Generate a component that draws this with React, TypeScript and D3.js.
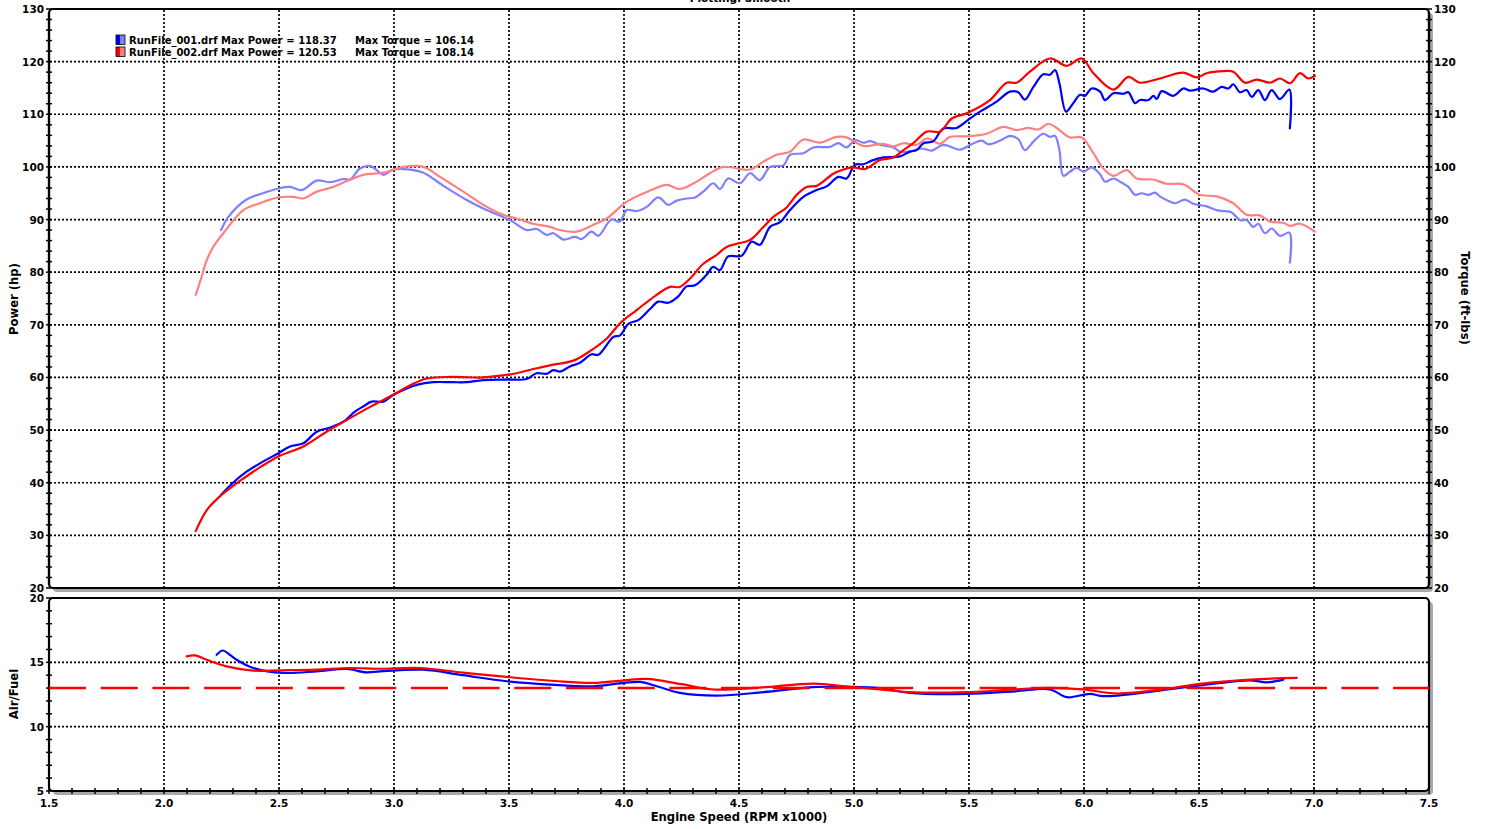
import React from "react";
import * as d3 from "d3";

type P = [number, number];

const xTicks = [1.5, 2.0, 2.5, 3.0, 3.5, 4.0, 4.5, 5.0, 5.5, 6.0, 6.5, 7.0, 7.5];
const topTicks = [20, 30, 40, 50, 60, 70, 80, 90, 100, 110, 120, 130];
const afrTicks = [5, 10, 15, 20];
const afrTarget = 13;

const legendRows = [
  { file: "RunFile_001.drf", power: "118.37", torque: "106.14" },
  { file: "RunFile_002.drf", power: "120.53", torque: "108.14" },
];

const run1Power: P[] = [[2.248,37.7],[2.30,40.0],[2.359,42.1],[2.43,44.0],[2.497,45.6],[2.548,46.9],[2.606,47.5],[2.664,49.7],[2.722,50.5],[2.780,51.6],[2.83,53.5],[2.867,54.5],[2.903,55.4],[2.954,55.4],[2.997,56.7],[3.05,57.8],[3.099,58.6],[3.171,59.1],[3.25,59.1],[3.316,59.1],[3.388,59.5],[3.50,59.6],[3.577,59.7],[3.620,60.8],[3.664,60.7],[3.693,61.4],[3.722,61.1],[3.765,62.1],[3.809,62.8],[3.859,64.4],[3.888,64.3],[3.954,67.7],[3.983,68.0],[4.019,70.2],[4.062,70.9],[4.113,73.0],[4.149,74.4],[4.193,74.2],[4.236,75.4],[4.272,77.3],[4.309,77.5],[4.359,79.5],[4.388,81.0],[4.417,80.4],[4.453,83.0],[4.511,83.1],[4.555,85.8],[4.591,85.2],[4.635,88.6],[4.678,89.5],[4.722,91.8],[4.780,94.3],[4.838,95.6],[4.881,96.3],[4.932,98.1],[4.968,97.8],[5.004,100.4],[5.041,100.5],[5.077,101.2],[5.128,101.8],[5.200,102.0],[5.243,102.9],[5.272,103.2],[5.302,104.5],[5.345,104.9],[5.388,107.3],[5.446,107.4],[5.504,109.2],[5.548,110.5],[5.620,112.4],[5.678,114.3],[5.714,114.2],[5.743,112.8],[5.780,115.2],[5.823,117.6],[5.852,117.5],[5.874,118.4],[5.893,115.9],[5.922,110.5],[5.953,112.1],[5.983,113.7],[6.004,113.5],[6.033,114.9],[6.070,114.3],[6.091,112.7],[6.128,114.0],[6.172,113.9],[6.193,114.2],[6.222,112.1],[6.243,112.7],[6.280,112.7],[6.302,113.5],[6.316,112.9],[6.338,114.4],[6.388,113.5],[6.432,114.9],[6.461,114.5],[6.519,114.9],[6.562,114.3],[6.599,115.2],[6.628,114.9],[6.649,115.7],[6.678,114.2],[6.707,114.6],[6.729,113.3],[6.758,114.6],[6.787,112.7],[6.816,114.6],[6.852,112.9],[6.893,114.7],[6.895,107.3]];

const run2Power: P[] = [[2.138,30.8],[2.186,34.8],[2.243,37.4],[2.345,40.8],[2.42,43.0],[2.497,45.0],[2.606,46.9],[2.70,49.5],[2.794,51.9],[2.90,54.5],[2.997,56.7],[3.07,58.5],[3.142,59.8],[3.25,60.1],[3.388,60.0],[3.47,60.4],[3.533,60.8],[3.606,61.6],[3.678,62.3],[3.780,63.2],[3.838,64.6],[3.925,67.4],[3.983,70.3],[4.055,72.8],[4.142,75.7],[4.200,77.2],[4.243,77.2],[4.287,78.8],[4.345,81.6],[4.403,83.3],[4.446,84.8],[4.490,85.4],[4.548,86.1],[4.606,88.6],[4.649,90.5],[4.707,92.3],[4.751,94.7],[4.794,96.2],[4.838,96.4],[4.910,98.7],[4.954,99.5],[4.997,99.9],[5.048,99.6],[5.113,101.3],[5.172,101.8],[5.215,103.2],[5.258,104.5],[5.316,106.7],[5.374,106.7],[5.425,109.2],[5.490,110.2],[5.591,112.7],[5.664,116.0],[5.707,116.0],[5.765,118.1],[5.852,120.6],[5.925,119.2],[5.990,120.6],[6.041,117.8],[6.128,114.7],[6.193,117.1],[6.243,116.0],[6.330,116.8],[6.432,117.9],[6.490,117.0],[6.533,117.8],[6.606,118.2],[6.649,118.1],[6.700,116.0],[6.751,116.6],[6.809,116.0],[6.852,116.8],[6.896,115.9],[6.939,117.8],[6.975,116.8],[7.004,117.3]];

const run1Torque: P[] = [[2.248,88.0],[2.280,90.5],[2.359,93.8],[2.43,95.0],[2.497,95.9],[2.548,96.2],[2.599,95.6],[2.664,97.4],[2.722,97.1],[2.780,97.7],[2.809,97.6],[2.852,99.7],[2.896,100.2],[2.925,99.4],[2.954,98.5],[2.997,99.5],[3.070,99.5],[3.128,98.9],[3.215,96.4],[3.316,93.7],[3.388,92.1],[3.504,89.9],[3.577,88.0],[3.620,88.2],[3.664,87.1],[3.693,87.4],[3.736,86.2],[3.787,86.7],[3.816,86.3],[3.859,87.7],[3.888,86.9],[3.945,90.0],[3.981,89.6],[4.012,91.8],[4.055,91.6],[4.099,92.4],[4.149,94.2],[4.193,92.8],[4.229,93.6],[4.272,94.0],[4.309,94.2],[4.352,95.6],[4.388,96.9],[4.417,95.8],[4.453,97.8],[4.504,96.9],[4.548,98.8],[4.591,97.5],[4.635,100.0],[4.693,100.3],[4.722,102.3],[4.780,102.6],[4.823,103.7],[4.896,103.8],[4.932,104.5],[4.968,103.7],[5.004,105.1],[5.041,104.6],[5.070,104.9],[5.113,104.2],[5.172,103.7],[5.200,102.9],[5.243,102.9],[5.294,103.5],[5.338,103.1],[5.388,104.2],[5.461,103.3],[5.511,104.3],[5.555,105.0],[5.584,104.3],[5.635,105.0],[5.678,105.9],[5.714,105.3],[5.743,103.2],[5.780,104.8],[5.823,106.3],[5.852,105.7],[5.874,105.9],[5.893,103.2],[5.910,98.3],[5.939,99.1],[5.968,99.8],[5.997,99.1],[6.033,99.9],[6.070,98.6],[6.091,97.2],[6.128,97.8],[6.164,97.0],[6.193,96.2],[6.222,94.7],[6.251,95.0],[6.280,94.7],[6.309,95.1],[6.330,94.4],[6.359,93.7],[6.396,93.1],[6.439,93.8],[6.475,93.0],[6.533,92.5],[6.577,91.8],[6.613,91.6],[6.641,91.4],[6.678,89.9],[6.707,89.9],[6.736,88.6],[6.758,89.2],[6.787,87.4],[6.816,88.3],[6.852,86.9],[6.893,87.5],[6.895,81.8]];

const run2Torque: P[] = [[2.138,75.7],[2.157,78.2],[2.186,82.3],[2.214,84.8],[2.258,87.4],[2.345,91.8],[2.417,93.1],[2.497,94.2],[2.562,94.3],[2.606,94.0],[2.664,95.3],[2.736,96.2],[2.80,97.4],[2.867,98.5],[2.954,98.9],[3.041,100.0],[3.128,100.0],[3.200,98.1],[3.301,95.3],[3.403,92.4],[3.475,90.9],[3.533,90.2],[3.606,89.2],[3.678,88.6],[3.722,88.0],[3.794,87.7],[3.867,89.0],[3.925,90.2],[4.012,93.4],[4.113,95.5],[4.186,96.6],[4.243,95.8],[4.316,97.2],[4.374,98.8],[4.432,100.0],[4.548,99.5],[4.606,101.0],[4.664,102.3],[4.722,102.9],[4.780,105.2],[4.852,104.6],[4.925,105.7],[4.968,105.6],[5.041,104.0],[5.128,104.4],[5.172,103.9],[5.215,104.5],[5.273,104.2],[5.316,105.4],[5.374,104.4],[5.417,105.7],[5.490,105.8],[5.577,106.3],[5.649,107.6],[5.707,107.0],[5.758,107.4],[5.801,107.1],[5.845,108.2],[5.881,107.4],[5.939,105.6],[5.990,105.6],[6.041,102.6],[6.084,99.7],[6.128,98.3],[6.186,99.4],[6.229,97.8],[6.301,97.6],[6.359,96.8],[6.432,96.7],[6.504,94.7],[6.577,94.4],[6.649,93.1],[6.707,90.9],[6.765,90.8],[6.809,89.6],[6.867,89.4],[6.896,88.8],[6.939,89.2],[7.004,87.7]];

const run1Afr: P[] = [[2.229,15.59],[2.255,15.92],[2.286,15.59],[2.316,15.2],[2.388,14.56],[2.519,14.18],[2.664,14.3],[2.794,14.48],[2.880,14.22],[2.939,14.3],[3.128,14.43],[3.3,14.0],[3.490,13.53],[3.7,13.25],[3.867,13.14],[4.070,13.48],[4.150,13.1],[4.243,12.63],[4.403,12.42],[4.606,12.68],[4.823,13.07],[4.983,13.09],[5.113,13.0],[5.243,12.63],[5.490,12.55],[5.7,12.75],[5.852,12.9],[5.925,12.29],[6.026,12.55],[6.084,12.37],[6.287,12.71],[6.504,13.2],[6.722,13.6],[6.794,13.45],[6.867,13.66]];

const run2Afr: P[] = [[2.099,15.46],[2.135,15.54],[2.186,15.2],[2.273,14.69],[2.388,14.35],[2.504,14.38],[2.664,14.43],[2.809,14.56],[2.939,14.5],[3.113,14.56],[3.3,14.2],[3.490,13.87],[3.7,13.55],[3.867,13.40],[4.0,13.6],[4.099,13.71],[4.25,13.3],[4.388,12.89],[4.6,13.05],[4.823,13.35],[4.983,13.09],[5.113,12.89],[5.243,12.68],[5.490,12.68],[5.7,12.9],[5.852,13.02],[5.997,12.9],[6.142,12.58],[6.359,12.94],[6.504,13.33],[6.722,13.66],[6.925,13.79]];

const W = 1486, H = 829;
const L = 49, R = 1429;
const topT = 9, topB = 588, botT = 598, botB = 791;
const FONT = "'DejaVu Sans', Verdana, sans-serif";

export default function App() {
  const x = d3.scaleLinear().domain([1.5, 7.5]).range([L, R]);
  const yT = d3.scaleLinear().domain([20, 130]).range([topB, topT]);
  const yA = d3.scaleLinear().domain([5, 20]).range([botB, botT]);

  const lineT = d3.line<P>().x(d => x(d[0])).y(d => yT(d[1])).curve(d3.curveCatmullRom.alpha(0.5));
  const lineA = d3.line<P>().x(d => x(d[0])).y(d => yA(d[1])).curve(d3.curveCatmullRom.alpha(0.5));

  const minorX = d3.range(15, 76).map(v => v / 10);
  const minorTop = d3.range(20, 131, 2);
  const minorAfr = d3.range(5, 21, 1);
  const gridX = xTicks.filter(v => v > 1.5 && v < 7.5);

  const panel = (y0: number, y1: number) => (
    <g>
      <rect x={L + 4} y={y0 + 4} width={R - L} height={y1 - y0} rx={4} fill="#a7a7ae" />
      <rect x={L} y={y0} width={R - L} height={y1 - y0} rx={4} fill="#fff" stroke="#000" strokeWidth={2.2} />
    </g>
  );

  const txt = { fontFamily: FONT, fontWeight: 700 as const, fontSize: 10.5, fill: "#000" };
  const ttl = { ...txt, fontSize: 11.6 };

  return (
    <svg width={W} height={H} style={{ position: "absolute", left: 0, top: 0, background: "#fff" }}>
      <text x={740} y={2} textAnchor="middle" {...txt}>Plotting: Smooth</text>
      {panel(topT, topB)}
      {panel(botT, botB)}

      {/* grids */}
      <g stroke="#000" strokeWidth={1.7} strokeDasharray="2,2">
        {gridX.map(v => <line key={"gx" + v} x1={x(v)} x2={x(v)} y1={topT + 1} y2={topB - 1} />)}
        {gridX.map(v => <line key={"gxb" + v} x1={x(v)} x2={x(v)} y1={botT + 1} y2={botB - 1} />)}
        {topTicks.filter(v => v > 20 && v < 130).map(v => <line key={"gy" + v} x1={L + 1} x2={R - 1} y1={yT(v)} y2={yT(v)} />)}
        {afrTicks.filter(v => v > 5 && v < 20).map(v => <line key={"ga" + v} x1={L + 1} x2={R - 1} y1={yA(v)} y2={yA(v)} />)}
      </g>

      {/* ticks */}
      <g stroke="#000" strokeWidth={1.5}>
        {minorTop.map(v => <line key={"lt" + v} x1={L - 3} x2={L + 3} y1={yT(v)} y2={yT(v)} />)}
        {minorTop.map(v => <line key={"rt" + v} x1={R - 3} x2={R + 3} y1={yT(v)} y2={yT(v)} />)}
        {minorAfr.map(v => <line key={"la" + v} x1={L - 3} x2={L + 3} y1={yA(v)} y2={yA(v)} />)}
        {minorX.map(v => <line key={"bx" + v} x1={x(v)} x2={x(v)} y1={botB - 3} y2={botB + 3} />)}
      </g>
      <line x1={L} x2={L} y1={topT + 3} y2={topB - 3} stroke="#000" strokeWidth={2.2} />
      <line x1={R} x2={R} y1={topT + 3} y2={topB - 3} stroke="#000" strokeWidth={2.2} />

      {/* tick labels */}
      {topTicks.map(v => <text key={"ltl" + v} x={44} y={yT(v) + 4} textAnchor="end" {...txt}>{v}</text>)}
      {topTicks.map(v => <text key={"rtl" + v} x={1434} y={yT(v) + 4} textAnchor="start" {...txt}>{v}</text>)}
      {afrTicks.map(v => <text key={"atl" + v} x={44} y={yA(v) + 4} textAnchor="end" {...txt}>{v}</text>)}
      {xTicks.map(v => <text key={"xtl" + v} x={x(v)} y={807} textAnchor="middle" {...txt}>{v.toFixed(1)}</text>)}

      {/* axis titles */}
      <text transform="translate(18,299) rotate(-90)" textAnchor="middle" {...ttl}>Power (hp)</text>
      <text transform="translate(1461,298) rotate(90)" textAnchor="middle" {...ttl}>Torque (ft-lbs)</text>
      <text transform="translate(18,694) rotate(-90)" textAnchor="middle" {...ttl}>Air/Fuel</text>
      <text x={739} y={821} textAnchor="middle" {...ttl}>Engine Speed (RPM x1000)</text>

      {/* legend */}
      {legendRows.map((r, i) => {
        const y0 = 35 + i * 12;
        const dark = i === 0 ? "#0000ff" : "#ff0000";
        const light = i === 0 ? "#8080ff" : "#ff8080";
        return (
          <g key={r.file}>
            <rect x={116} y={y0} width={4.5} height={9.5} fill={dark} />
            <rect x={120.5} y={y0} width={4.5} height={9.5} fill={light} />
            <rect x={116} y={y0} width={9} height={9.5} fill="none" stroke="#000" strokeWidth={0.8} />
            <text x={129} y={y0 + 9} {...txt} fontSize={10}>{`${r.file} Max Power = ${r.power}`}</text>
            <text x={355} y={y0 + 9} {...txt} fontSize={10}>{`Max Torque = ${r.torque}`}</text>
          </g>
        );
      })}

      {/* curves */}
      <g fill="none" strokeLinejoin="round" strokeLinecap="round">
        <path d={lineT(run1Torque) || ""} stroke="#8080ff" strokeWidth={2.2} />
        <path d={lineT(run2Torque) || ""} stroke="#ff8080" strokeWidth={2.2} />
        <path d={lineT(run1Power) || ""} stroke="#0000ff" strokeWidth={2.2} />
        <path d={lineT(run2Power) || ""} stroke="#ff0000" strokeWidth={2.2} />
        <path d={lineA(run1Afr) || ""} stroke="#0000ff" strokeWidth={2.2} />
        <path d={lineA(run2Afr) || ""} stroke="#ff0000" strokeWidth={2.2} />
      </g>
      <line x1={L} x2={R} y1={yA(afrTarget)} y2={yA(afrTarget)} stroke="#ff0000" strokeWidth={2.5} strokeDasharray="37,14.7" />
    </svg>
  );
}
